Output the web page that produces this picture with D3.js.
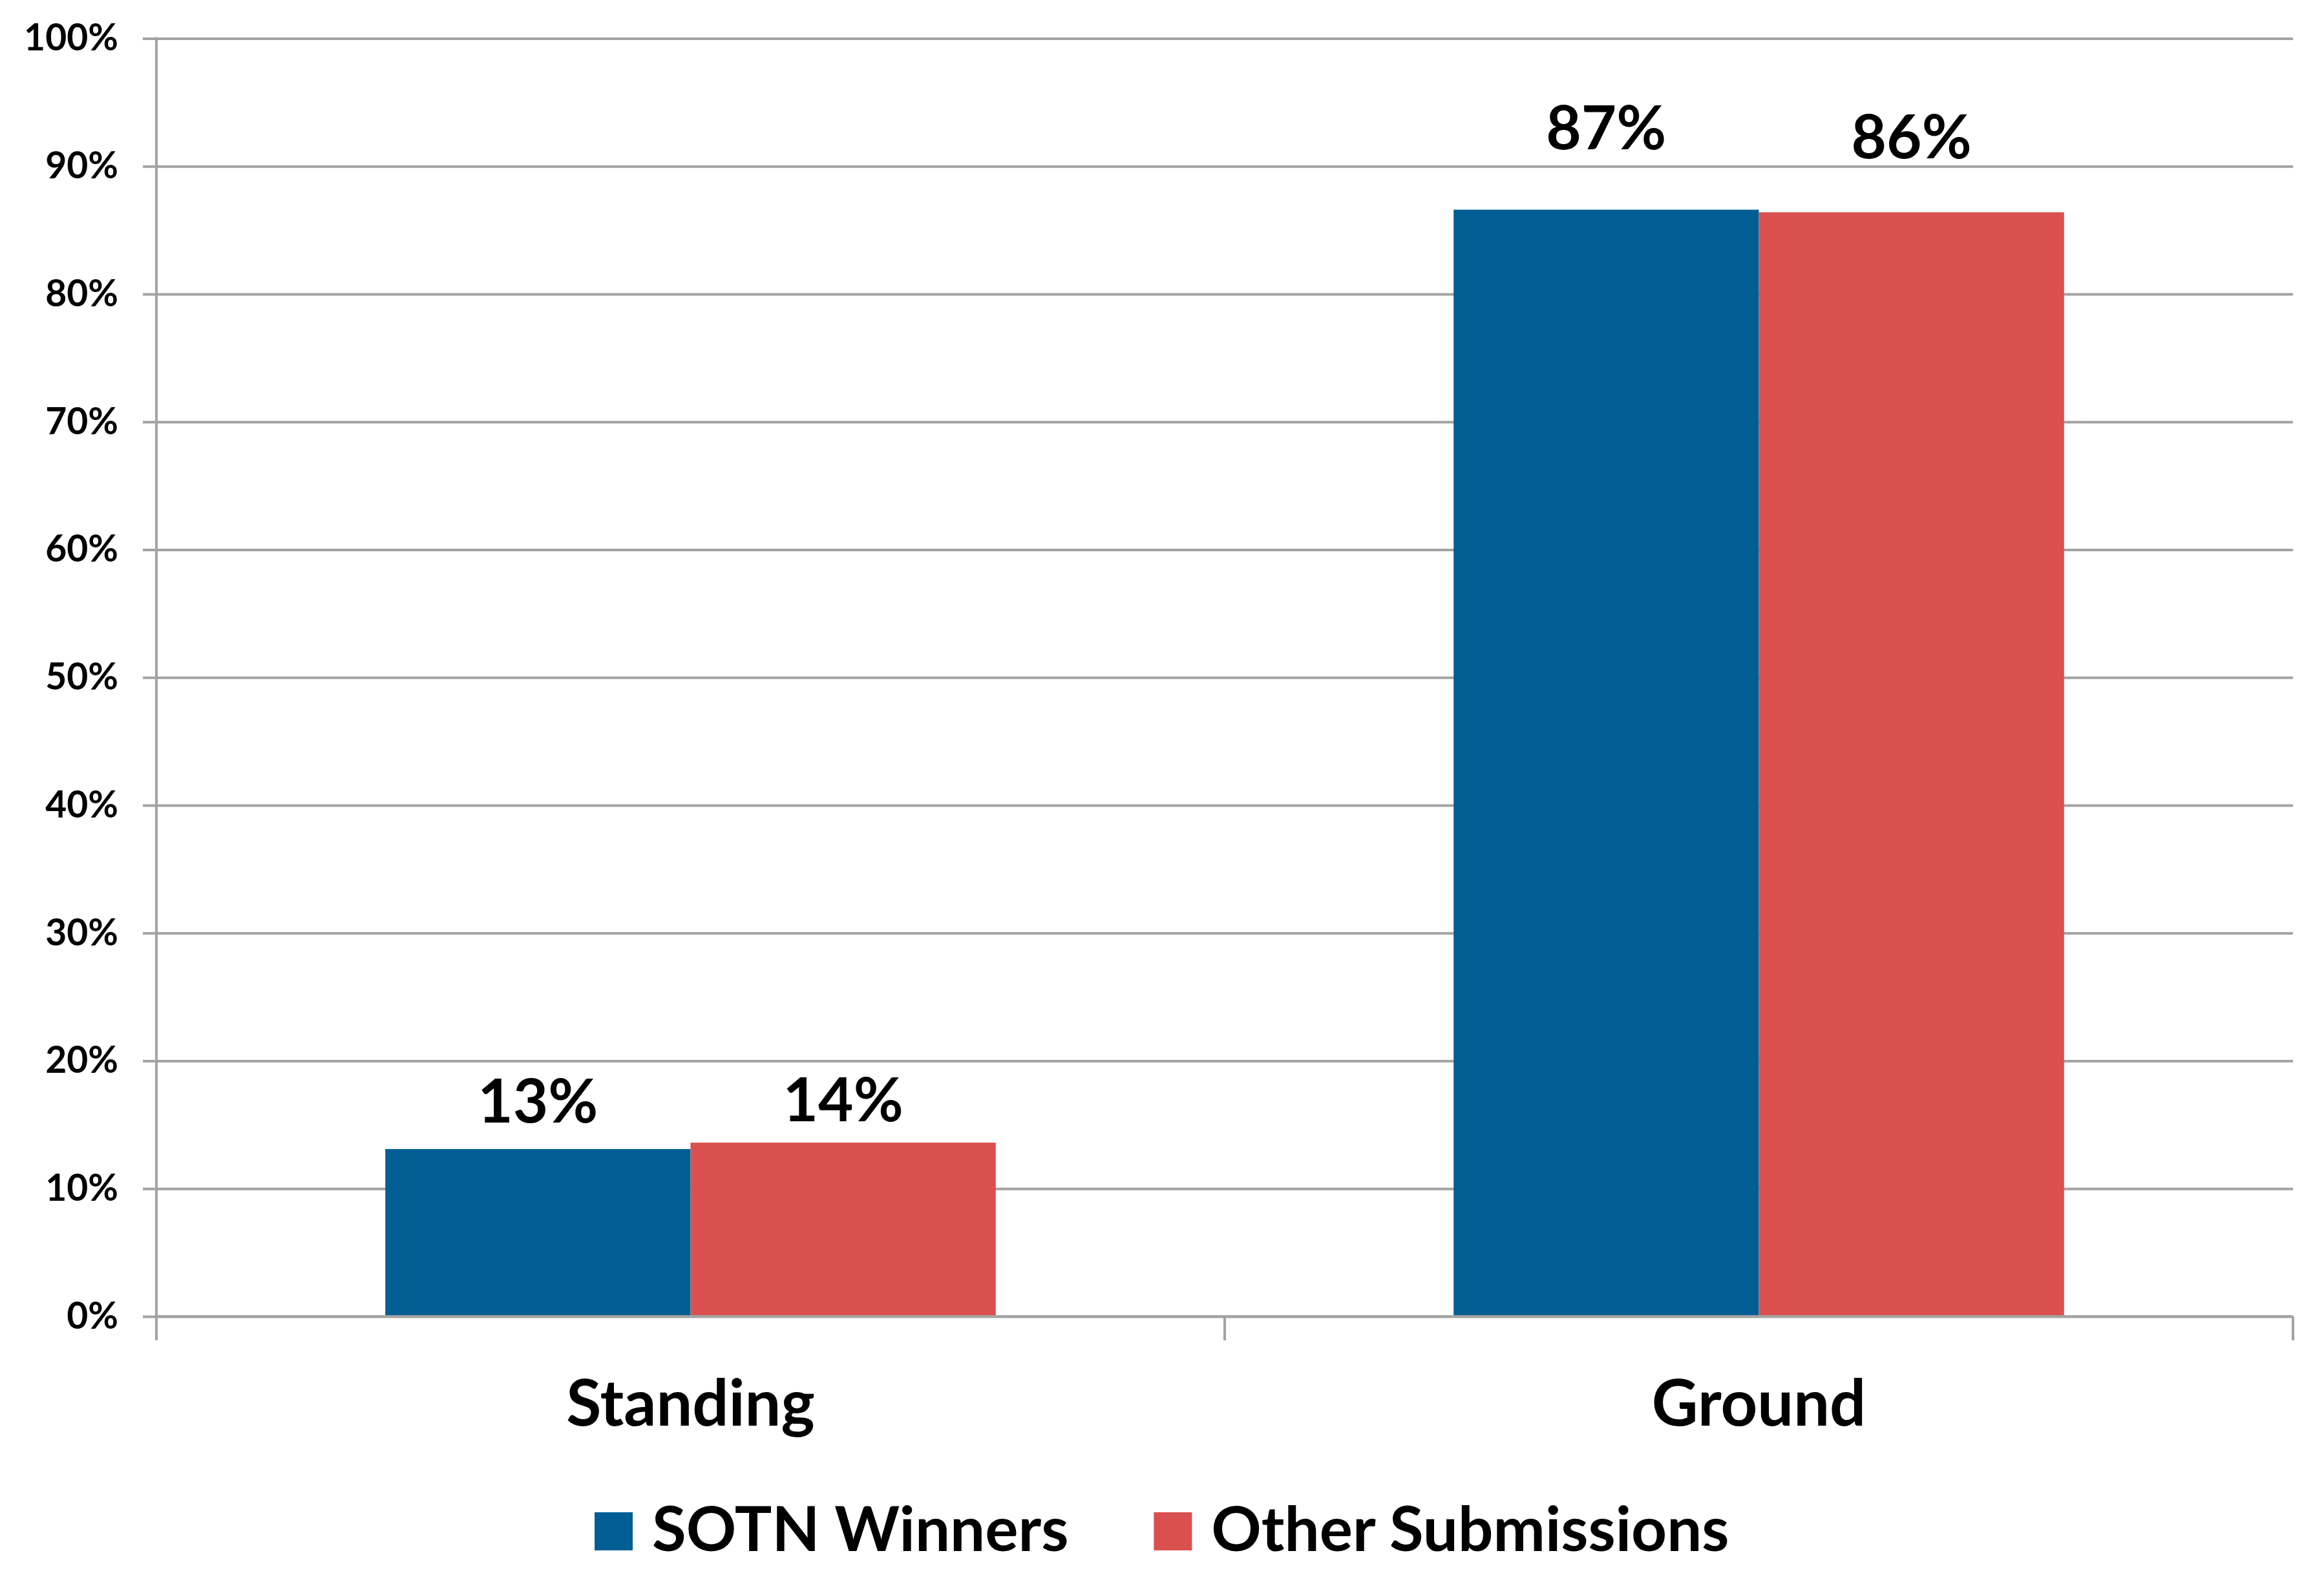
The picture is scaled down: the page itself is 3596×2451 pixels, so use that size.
<!DOCTYPE html>
<html>
<head>
<meta charset="utf-8">
<script src="https://cdn.jsdelivr.net/npm/d3@7"></script>
<style>
  html, body { margin: 0; padding: 0; background: #ffffff; }
  svg { display: block; }
  text { font-family: Lato, "Open Sans", "Liberation Sans", sans-serif; font-weight: bold; fill: #000; }
</style>
</head>
<body>
<svg id="chart" width="3596" height="2451"></svg>
<script>
// ---- data ----
const categories = ["Standing", "Ground"];
const series = ["SOTN Winners", "Other Submissions"];
const sotnWinners = [0.131, 0.866];
const otherSubmissions = [0.136, 0.864];
const yTicks = [0, 0.1, 0.2, 0.3, 0.4, 0.5, 0.6, 0.7, 0.8, 0.9, 1.0];

// ---- style / layout ----
const colors = { "SOTN Winners": "#005e94", "Other Submissions": "#da504f" };
const gridColor = "#a3a3a3";
const plot = { left: 242, right: 3548, top: 59.5, bottom: 2037 };
const labelGap = { "Standing": [41, 33], "Ground": [93, 83] };

const svg = d3.select("#chart");
svg.append("rect").attr("width", 3596).attr("height", 2451).attr("fill", "#fff");

const y = d3.scaleLinear().domain([0, 1]).range([plot.bottom, plot.top]);
const x0 = d3.scaleBand().domain(categories).range([plot.left, plot.right]).padding(0);
const x1 = d3.scaleBand().domain(series).range([0, x0.bandwidth()]).paddingInner(0).paddingOuter(0.75);

// gridlines
const grid = svg.append("g").attr("transform", `translate(${plot.left},0)`)
  .call(d3.axisRight(y).tickValues(yTicks).tickSize(plot.right - plot.left).tickFormat(""));
grid.select(".domain").remove();
grid.selectAll("line").attr("stroke", gridColor).attr("stroke-width", 4);

// left axis (ticks + labels)
const yAxis = svg.append("g").attr("transform", `translate(${plot.left},0)`)
  .call(d3.axisLeft(y).tickValues(yTicks).tickSize(21).tickPadding(38).tickFormat(d3.format(".0%")));
yAxis.select(".domain").remove();
yAxis.selectAll("line").attr("stroke", gridColor).attr("stroke-width", 4);
yAxis.selectAll("text").attr("font-size", 57).attr("font-family", "Lato, sans-serif")
  .attr("font-weight", "bold").attr("fill", "#000");

// vertical axis line
svg.append("line").attr("x1", plot.left).attr("x2", plot.left)
  .attr("y1", plot.top - 2).attr("y2", plot.bottom + 37)
  .attr("stroke", gridColor).attr("stroke-width", 4);

// category boundary ticks
const bounds = categories.map(c => x0(c)).concat([x0.range()[1]]);
svg.append("g").selectAll("line").data(bounds).join("line")
  .attr("x1", d => d).attr("x2", d => d)
  .attr("y1", plot.bottom).attr("y2", plot.bottom + 37)
  .attr("stroke", gridColor).attr("stroke-width", 4);

// bars
const rows = categories.map((c, i) => ({
  cat: c,
  vals: [
    { s: series[0], v: sotnWinners[i], k: 0 },
    { s: series[1], v: otherSubmissions[i], k: 1 }
  ]
}));
const groups = svg.append("g").selectAll("g").data(rows).join("g")
  .attr("transform", d => `translate(${x0(d.cat)},0)`);
groups.selectAll("rect").data(d => d.vals).join("rect")
  .attr("x", d => x1(d.s))
  .attr("y", d => y(d.v))
  .attr("width", x1.bandwidth())
  .attr("height", d => y(0) - y(d.v))
  .attr("fill", d => colors[d.s]);

// value labels
groups.selectAll("text").data(d => d.vals.map(v => ({ ...v, cat: d.cat }))).join("text")
  .attr("x", d => x1(d.s) + x1.bandwidth() / 2)
  .attr("y", d => y(d.v) - labelGap[d.cat][d.k])
  .attr("text-anchor", "middle")
  .attr("font-size", 94)
  .text(d => d3.format(".0%")(d.v));

// x axis baseline
svg.append("line").attr("x1", plot.left).attr("x2", plot.right)
  .attr("y1", plot.bottom).attr("y2", plot.bottom)
  .attr("stroke", gridColor).attr("stroke-width", 4);

// category labels
svg.append("g").selectAll("text").data(categories).join("text")
  .attr("x", d => x0(d) + x0.bandwidth() / 2)
  .attr("y", 2206)
  .attr("text-anchor", "middle")
  .attr("font-size", 99)
  .text(d => d);

// legend
const legend = svg.append("g");
let lx = 920;
series.forEach((s, i) => {
  legend.append("rect").attr("x", lx).attr("y", 2340).attr("width", 59).attr("height", 59)
    .attr("fill", colors[s]);
  const t = legend.append("text").attr("x", lx + 89).attr("y", 2400)
    .attr("font-size", 96).text(s);
  const w = t.node().getComputedTextLength();
  lx = lx + 89 + w + 132;
});
</script>
</body>
</html>
